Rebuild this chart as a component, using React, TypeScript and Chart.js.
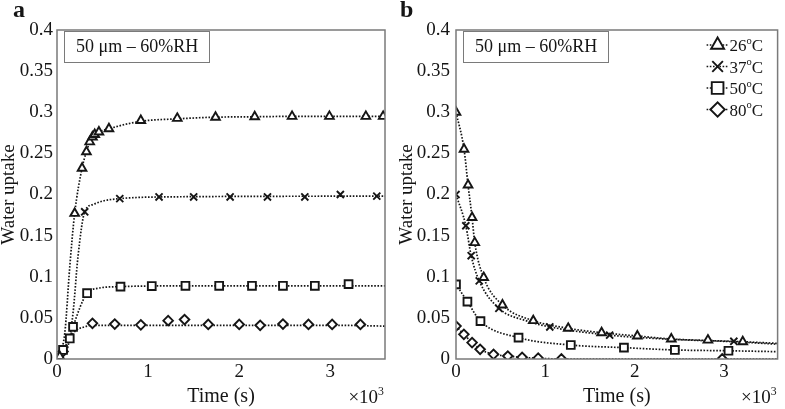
import React, { useEffect, useRef } from "react";
import { Chart, registerables } from "chart.js";
import { drawPoint } from "chart.js/helpers";
Chart.register(...registerables);

// ---------- data (time in 10^3 s, water uptake) ----------
const temps = ["26", "37", "50", "80"];
const markerStyles = ["triangle", "crossRot", "rect", "rectRot"];
const markerRadii = [5, 5, 5.5, 4.8];

// Panel a: measured points
const a26T = [0, 0.03, 0.194, 0.275, 0.323, 0.359, 0.389, 0.414, 0.46, 0.57, 0.92, 1.32, 1.74, 2.17, 2.58, 2.99, 3.39, 3.58];
const a26W = [0, 0.003, 0.177, 0.232, 0.252, 0.264, 0.27, 0.273, 0.276, 0.28, 0.29, 0.2926, 0.294, 0.2945, 0.295, 0.295, 0.295, 0.295];
const a37T = [0, 0.304, 0.689, 1.12, 1.5, 1.9, 2.31, 2.72, 3.11, 3.51];
const a37W = [0, 0.179, 0.195, 0.197, 0.197, 0.197, 0.197, 0.197, 0.2, 0.198];
const a50T = [0, 0.066, 0.14, 0.176, 0.33, 0.697, 1.04, 1.41, 1.78, 2.14, 2.48, 2.83, 3.2];
const a50W = [0, 0.011, 0.025, 0.039, 0.08, 0.088, 0.0887, 0.089, 0.089, 0.089, 0.089, 0.089, 0.091];
const a80T = [0, 0.066, 0.389, 0.634, 0.92, 1.22, 1.4, 1.66, 2.0, 2.23, 2.48, 2.76, 3.02, 3.33];
const a80W = [0, 0.009, 0.0434, 0.0425, 0.0415, 0.0466, 0.048, 0.042, 0.042, 0.041, 0.0425, 0.042, 0.042, 0.042];
// Panel a: fitted curves
const a26FitT = [0, 0.03, 0.085, 0.14, 0.194, 0.275, 0.323, 0.389, 0.46, 0.57, 0.92, 1.32, 1.74, 2.17, 2.58, 3.6];
const a26FitW = [0, 0.007, 0.031, 0.112, 0.177, 0.232, 0.252, 0.27, 0.276, 0.28, 0.289, 0.292, 0.294, 0.2945, 0.295, 0.295];
const a37FitT = [0, 0.06, 0.12, 0.176, 0.23, 0.304, 0.4, 0.5, 0.689, 1.12, 3.6];
const a37FitW = [0, 0.004, 0.015, 0.056, 0.124, 0.179, 0.188, 0.192, 0.195, 0.197, 0.198];
const a50FitT = [0, 0.066, 0.14, 0.176, 0.33, 0.45, 0.697, 1.5, 3.6];
const a50FitW = [0, 0.011, 0.025, 0.039, 0.08, 0.086, 0.088, 0.089, 0.089];
const a80FitT = [0, 0.066, 0.14, 0.2, 0.3, 0.389, 1.0, 2.0, 3.0, 3.6];
const a80FitW = [0, 0.01, 0.025, 0.034, 0.039, 0.041, 0.041, 0.041, 0.041, 0.04];

// Panel b: measured points
const b26T = [0, 0.09, 0.135, 0.18, 0.21, 0.31, 0.52, 0.865, 1.256, 1.63, 2.03, 2.41, 2.82, 3.21];
const b26W = [0.3, 0.255, 0.2115, 0.172, 0.1415, 0.099, 0.0657, 0.0466, 0.0373, 0.032, 0.028, 0.0243, 0.023, 0.021];
const b37T = [0, 0.11, 0.17, 0.26, 0.48, 1.05, 1.72, 3.11];
const b37W = [0.2, 0.162, 0.1256, 0.095, 0.0616, 0.039, 0.029, 0.0215];
const b50T = [0, 0.128, 0.274, 0.7, 1.285, 1.88, 2.45, 3.05];
const b50W = [0.0908, 0.0697, 0.046, 0.026, 0.017, 0.0138, 0.011, 0.01];
const b80T = [0, 0.088, 0.18, 0.27, 0.42, 0.58, 0.74, 0.92, 1.18, 2.98];
const b80W = [0.04, 0.03, 0.02, 0.0118, 0.0057, 0.0036, 0.002, 0.001, 0, 0];
// Panel b: fitted curves
const b26FitT = [0, 0.09, 0.135, 0.18, 0.21, 0.31, 0.52, 0.865, 1.256, 1.63, 2.03, 2.41, 2.82, 3.21, 3.6];
const b26FitW = [0.3, 0.255, 0.2115, 0.172, 0.1415, 0.099, 0.0657, 0.0466, 0.0373, 0.032, 0.028, 0.0243, 0.0225, 0.021, 0.019];
const b37FitT = [0, 0.11, 0.17, 0.26, 0.48, 0.8, 1.05, 1.72, 2.4, 3.11, 3.6];
const b37FitW = [0.2, 0.162, 0.1256, 0.095, 0.0616, 0.046, 0.039, 0.029, 0.024, 0.021, 0.018];
const b50FitT = [0, 0.128, 0.274, 0.7, 1.285, 1.88, 2.45, 3.05, 3.6];
const b50FitW = [0.0908, 0.0697, 0.046, 0.026, 0.017, 0.0138, 0.011, 0.01, 0.0089];
const b80FitT = [0, 0.088, 0.18, 0.27, 0.42, 0.58, 0.74, 0.92, 1.18, 2.98, 3.6];
const b80FitW = [0.04, 0.03, 0.02, 0.0118, 0.0057, 0.0036, 0.002, 0.001, 0, 0, 0];

const boxText = "50 μm – 60%RH";
const xTitle = "Time (s)";
const yTitle = "Water uptake";

const SERIF = "'Liberation Serif', 'Times New Roman', serif";
const INK = "#151515";
const FRAME = "#7a7a7a";

const pts = (t: number[], w: number[]) => t.map((x, i) => ({ x, y: w[i] }));

function buildDatasets(markers: [number[], number[]][], fits: [number[], number[]][]) {
  const ds: any[] = [];
  fits.forEach(([t, w], i) => {
    ds.push({
      label: temps[i] + "°C fit",
      data: pts(t, w),
      showLine: true,
      pointRadius: 0,
      borderColor: INK,
      borderWidth: 1.7,
      borderDash: [1.6, 1.6],
      cubicInterpolationMode: "monotone",
      fill: false,
      order: 2,
    });
  });
  markers.forEach(([t, w], i) => {
    ds.push({
      label: temps[i] + "°C",
      data: pts(t, w),
      showLine: false,
      pointStyle: markerStyles[i],
      pointRadius: markerRadii[i],
      pointBorderColor: INK,
      pointBackgroundColor: "#ffffff",
      pointBorderWidth: 1.9,
      order: 1,
    });
  });
  return ds;
}

function drawSup(ctx: CanvasRenderingContext2D, parts: [string, boolean][], x: number, y: number, size: number, align: "left" | "right") {
  const widths = parts.map(([s, sup]) => {
    ctx.font = `${sup ? size * 0.62 : size}px ${SERIF}`;
    return ctx.measureText(s).width;
  });
  const total = widths.reduce((a, b) => a + b, 0);
  let cx = align === "right" ? x - total : x;
  ctx.textAlign = "left";
  ctx.textBaseline = "alphabetic";
  parts.forEach(([s, sup], i) => {
    ctx.font = `${sup ? size * 0.62 : size}px ${SERIF}`;
    ctx.fillText(s, cx, sup ? y - size * 0.42 : y);
    cx += widths[i];
  });
}

function makeOverlay(letter: string, letterX: number, showLegend: boolean) {
  return {
    id: "overlay" + letter,
    afterDraw(chart: any) {
      const ctx: CanvasRenderingContext2D = chart.ctx;
      const ca = chart.chartArea;
      ctx.save();
      // frame
      ctx.strokeStyle = FRAME;
      ctx.lineWidth = 1.5;
      ctx.strokeRect(ca.left, ca.top, ca.right - ca.left, ca.bottom - ca.top);
      // panel letter
      ctx.fillStyle = INK;
      ctx.font = `bold 24px ${SERIF}`;
      ctx.textAlign = "left";
      ctx.textBaseline = "alphabetic";
      ctx.fillText(letter, letterX, 17);
      // text box
      const bx = ca.left + 7, by = ca.top + 1;
      ctx.fillStyle = "#ffffff";
      ctx.fillRect(bx, by, 145, 31);
      ctx.strokeStyle = FRAME;
      ctx.lineWidth = 1;
      ctx.strokeRect(bx + 0.5, by + 0.5, 145, 31);
      ctx.fillStyle = INK;
      ctx.font = `18px ${SERIF}`;
      ctx.textBaseline = "middle";
      ctx.fillText(boxText, bx + 12, by + 16);
      // x10^3
      drawSup(ctx, [["×10", false], ["3", true]], ca.right - 1, 403, 19, "right");
      // legend
      if (showLegend) {
        const lx = ca.right - 60;
        temps.forEach((tp, i) => {
          const ly = ca.top + 15 + i * 21.5;
          ctx.strokeStyle = INK;
          ctx.lineWidth = 1.5;
          ctx.setLineDash([1.6, 1.6]);
          ctx.beginPath();
          ctx.moveTo(lx - 11, ly);
          ctx.lineTo(lx + 11, ly);
          ctx.stroke();
          ctx.setLineDash([]);
          ctx.fillStyle = "#ffffff";
          ctx.strokeStyle = INK;
          ctx.lineWidth = 1.9;
          drawPoint(ctx, { pointStyle: markerStyles[i], radius: markerRadii[i] * 1.5, rotation: 0, borderWidth: 1.9 } as any, lx, ly);
          ctx.fillStyle = INK;
          drawSup(ctx, [[tp, false], ["o", true], ["C", false]], lx + 12, ly + 6, 17, "left");
        });
      }
      ctx.restore();
    },
  };
}

function makeConfig(datasets: any[], yWidth: number, yTickPad: number, yTitlePad: number, padRight: number, letter: string, letterX: number, showLegend: boolean) {
  return {
    type: "scatter",
    data: { datasets },
    options: {
      animation: false,
      responsive: false,
      layout: { padding: { left: 0, right: padRight, top: 30, bottom: 0 } },
      plugins: { legend: { display: false }, tooltip: { enabled: false } },
      scales: {
        x: {
          type: "linear",
          min: 0,
          max: 3.6,
          grid: { display: false, drawTicks: false },
          border: { display: false },
          ticks: {
            stepSize: 1,
            includeBounds: false,
            maxRotation: 0,
            autoSkip: false,
            padding: 2,
            color: INK,
            font: { family: SERIF, size: 19 },
          },
          title: { display: true, text: xTitle, color: INK, font: { family: SERIF, size: 20, lineHeight: 1.2 }, padding: { top: 0, bottom: 0 } },
          afterFit: (s: any) => { s.height = 50; },
        },
        y: {
          type: "linear",
          min: 0,
          max: 0.4,
          grid: { display: false, drawTicks: false },
          border: { display: false },
          ticks: {
            stepSize: 0.05,
            padding: yTickPad,
            color: INK,
            font: { family: SERIF, size: 19 },
            callback: (v: number) => String(Math.round(v * 100) / 100),
          },
          title: { display: true, text: yTitle, color: INK, font: { family: SERIF, size: 19, lineHeight: 1 }, padding: { top: yTitlePad, bottom: 0 } },
          afterFit: (s: any) => { s.width = yWidth; },
        },
      },
    },
    plugins: [makeOverlay(letter, letterX, showLegend)],
  };
}

export default function App() {
  const leftRef = useRef<HTMLCanvasElement>(null);
  const rightRef = useRef<HTMLCanvasElement>(null);

  useEffect(() => {
    const dsA = buildDatasets(
      [[a26T, a26W], [a37T, a37W], [a50T, a50W], [a80T, a80W]],
      [[a26FitT, a26FitW], [a37FitT, a37FitW], [a50FitT, a50FitW], [a80FitT, a80FitW]]
    );
    const dsB = buildDatasets(
      [[b26T, b26W], [b37T, b37W], [b50T, b50W], [b80T, b80W]],
      [[b26FitT, b26FitW], [b37FitT, b37FitW], [b50FitT, b50FitW], [b80FitT, b80FitW]]
    );
    const c1 = new Chart(leftRef.current as HTMLCanvasElement, makeConfig(dsA, 57, 4, 0, 10, "a", 13, false) as any);
    const c2 = new Chart(rightRef.current as HTMLCanvasElement, makeConfig(dsB, 61, 6, 3, 1, "b", 5, true) as any);
    return () => { c1.destroy(); c2.destroy(); };
  }, []);

  return (
    <div style={{ position: "fixed", left: 0, top: 0, width: 785, height: 409, background: "#fff", overflow: "hidden" }}>
      <canvas ref={leftRef} width={395} height={409} style={{ position: "absolute", left: 0, top: 0, width: 395, height: 409 }} />
      <canvas ref={rightRef} width={390} height={409} style={{ position: "absolute", left: 395, top: 0, width: 390, height: 409 }} />
    </div>
  );
}
